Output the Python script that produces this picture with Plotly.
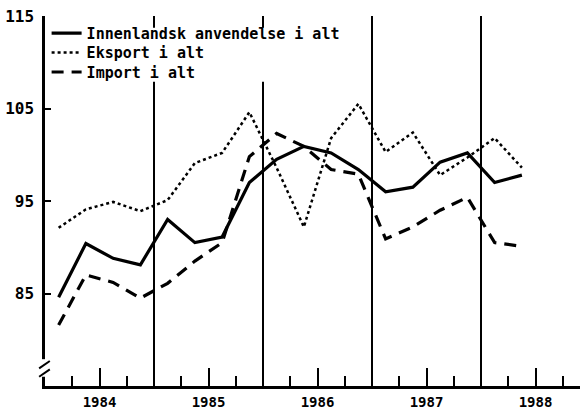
import plotly.graph_objects as go

# quarterly index, 1984Q1 - 1988Q2
years = [1984, 1985, 1986, 1987, 1988]
quarters = [(y, q) for y in years for q in (1, 2, 3, 4)][:18]

innenlandsk = [84.6, 90.4, 88.8, 88.1, 93.0, 90.5, 91.1, 97.0, 99.5,
               100.9, 100.2, 98.4, 96.0, 96.5, 99.2, 100.2, 97.0, 97.8]
eksport = [92.1, 94.1, 94.9, 93.9, 95.1, 99.1, 100.2, 104.6, 98.6,
           92.2, 101.8, 105.5, 100.3, 102.4, 97.8, 99.7, 101.8, 98.6]
import_ = [81.6, 87.0, 86.2, 84.5, 86.1, 88.5, 90.5, 99.8, 102.3,
           100.9, 98.4, 97.9, 90.9, 92.2, 94.0, 95.4, 90.5, 90.1]

y_ticks = [85, 95, 105, 115]
year_labels = [str(y) for y in years]

x = [y + (q - 0.5) / 4 for y, q in quarters]

mono = "DejaVu Sans Mono"

fig = go.Figure()
fig.add_trace(go.Scatter(x=x, y=innenlandsk, mode="lines",
                         name="Innenlandsk anvendelse i alt", legend="legend",
                         line=dict(color="black", width=3.2)))
fig.add_trace(go.Scatter(x=x, y=eksport, mode="lines",
                         name="Eksport i alt", legend="legend2",
                         line=dict(color="black", width=2.5, dash="dot")))
fig.add_trace(go.Scatter(x=x, y=import_, mode="lines",
                         name="Import i alt", legend="legend3",
                         line=dict(color="black", width=3.2, dash="12px,8px")))

# year separators
for yr in years[1:]:
    fig.add_vline(x=yr, line=dict(color="black", width=2))

# white patch behind the legend text (hides the separators there)
fig.add_shape(type="rect", xref="paper", yref="paper",
              x0=0.006, x1=0.56, y0=0.822, y1=0.968,
              fillcolor="white", line=dict(width=0))

# axis break on the y axis
fig.add_shape(type="rect", xref="paper", yref="y", x0=-0.01, x1=0.01,
              y0=76.0, y1=77.9, fillcolor="white", line=dict(width=0))
for y0 in (76.4, 77.3):
    fig.add_shape(type="line", xref="paper", yref="y", x0=-0.011, x1=0.009,
                  y0=y0 - 0.4, y1=y0 + 0.4, line=dict(color="black", width=2))

legend_style = dict(
    x=0.003, xanchor="left", yanchor="middle",
    bgcolor="rgba(0,0,0,0)", borderwidth=0,
    font=dict(family=mono, size=15, weight="bold"),
)

fig.update_layout(
    width=580,
    height=410,
    margin=dict(l=45, r=0, t=16, b=24),
    paper_bgcolor="white",
    plot_bgcolor="white",
    font=dict(family=mono, color="black"),
    showlegend=True,
    legend=dict(y=0.953, **legend_style),
    legend2=dict(y=0.901, **legend_style),
    legend3=dict(y=0.848, **legend_style),
    xaxis=dict(
        range=[1984, 1984 + 535 / 109],
        automargin=False,
        showline=True, linecolor="black", linewidth=2.5,
        showgrid=False, zeroline=False,
        ticks="inside", ticklen=18, tickwidth=2, tickcolor="black",
        tickvals=[y + 0.5 for y in years], ticktext=year_labels,
        tickfont=dict(family=mono, size=14, weight="bold"),
        ticklabelstandoff=1,
        minor=dict(ticks="inside", ticklen=10, tickwidth=2,
                   tickcolor="black", dtick=0.25, tick0=1984),
    ),
    yaxis=dict(
        range=[75, 115],
        automargin=False,
        showline=True, linecolor="black", linewidth=2.5,
        showgrid=False, zeroline=False,
        ticks="inside", ticklen=6, tickwidth=2, tickcolor="black",
        tickvals=y_ticks,
        tickfont=dict(family=mono, size=16, weight="bold"),
        ticklabelstandoff=5,
    ),
)

fig.write_html("out.html", config={"displayModeBar": False},
               post_script="document.body.style.margin='0';")
